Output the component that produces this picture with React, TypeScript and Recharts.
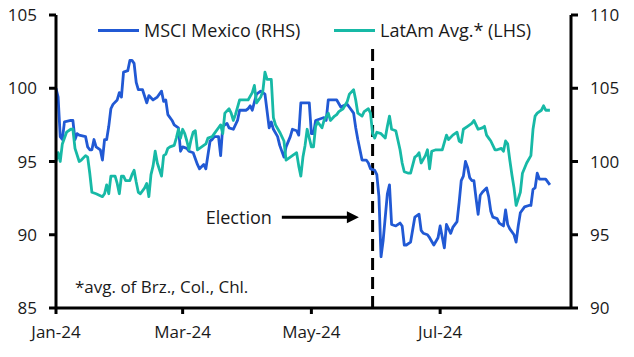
import { LineChart, Line, XAxis, YAxis, ReferenceLine, ReferenceDot, Legend } from "recharts";

document.body.style.margin = "0";

// days counted from 1 Jan 2024
const mexDays = [
  0, 1, 2, 3, 4, 7, 8, 9, 10, 11, 14, 15, 16, 17, 18, 19, 21, 22, 23, 24, 25, 26, 27, 29, 30, 31, 32, 34, 35, 36,
  37, 38, 39, 41, 43, 44, 46, 48, 50, 51, 52, 53, 55, 56, 58, 59, 60, 62, 63, 65, 67, 68, 70, 71, 73, 74, 75, 77,
  78, 79, 81, 82, 84, 86, 87, 90, 91, 92, 93, 95, 97, 98, 99, 101, 102, 103, 105, 106, 108, 109, 111, 112, 114,
  115, 116, 118, 120, 121, 122, 123, 125, 127, 128, 129, 131, 133, 135, 136, 138, 139, 141, 142, 143, 145, 147,
  148, 149, 151, 152, 153, 154, 155, 157, 158, 159, 161, 163, 164, 165, 166, 168, 170, 172, 173, 174, 176, 177,
  179, 181, 182, 184, 185, 187, 188, 190, 191, 192, 193, 194, 195, 196, 197, 198, 199, 200, 201, 202, 204, 205,
  206, 207, 209, 210, 212, 213, 214, 215, 217, 218, 219, 220, 222, 224, 225, 226, 227, 228, 229, 231, 232, 234,
];
const mexValues = [
  100.0, 99.4, 96.7, 96.5, 97.7, 97.8, 97.8, 96.5, 96.9, 96.8, 96.7, 96.0, 95.8, 95.8, 96.5, 96.0, 95.8, 95.1, 96.5,
  96.5, 97.4, 98.6, 98.9, 99.2, 99.7, 99.4, 101.1, 101.2, 101.9, 101.9, 101.7, 100.4, 99.9, 99.9, 99.0, 99.5, 99.2,
  99.4, 99.8, 99.1, 99.2, 98.2, 97.8, 97.5, 97.3, 95.7, 96.0, 95.9, 95.7, 95.6, 94.8, 94.5, 94.8, 94.5, 96.4, 96.5,
  96.7, 96.7, 95.4, 97.4, 97.6, 97.3, 97.2, 97.8, 98.5, 98.5, 98.6, 98.8, 98.5, 99.6, 99.8, 99.7, 99.6, 97.3, 97.7,
  97.2, 96.7, 96.1, 95.3, 96.0, 96.7, 97.2, 97.1, 96.8, 99.0, 99.0, 99.0, 96.9, 96.9, 97.8, 97.9, 98.0, 97.8, 99.2,
  99.2, 99.2, 98.7, 98.8, 98.9, 98.7, 98.3, 97.3, 96.5, 95.1, 95.1, 94.9, 94.5, 94.4, 94.1, 92.6, 88.5, 89.6, 92.8,
  93.4, 90.7, 90.6, 90.8, 90.6, 89.3, 89.3, 89.5, 91.2, 91.4, 90.3, 90.1, 90.0, 89.8, 89.3, 89.8, 90.6, 89.1, 90.7,
  90.1, 90.5, 90.9, 92.2, 93.7, 94.0, 95.0, 94.6, 93.9, 93.7, 93.7, 92.5, 91.4, 92.7, 92.9, 93.2, 92.6, 91.6, 91.2,
  91.1, 90.8, 90.6, 91.7, 90.7, 90.4, 90.0, 89.5, 90.6, 91.5, 91.9, 92.0, 92.0, 93.1, 93.2, 94.2, 93.8, 93.8, 93.8,
  93.4,
];

const latamDays = [
  0, 1, 2, 3, 5, 7, 8, 9, 11, 12, 14, 15, 16, 17, 19, 22, 23, 24, 25, 26, 28, 29, 30, 31, 32, 33, 35, 36, 37, 38,
  39, 40, 42, 43, 44, 45, 46, 47, 48, 50, 51, 52, 53, 54, 56, 57, 58, 59, 60, 61, 62, 63, 64, 65, 66, 67, 69, 71,
  72, 74, 75, 77, 78, 79, 80, 82, 83, 84, 85, 86, 87, 90, 91, 93, 94, 95, 97, 98, 99, 100, 102, 103, 104, 106, 108,
  109, 110, 112, 114, 115, 116, 117, 118, 119, 121, 122, 123, 124, 126, 127, 129, 130, 132, 133, 134, 136, 138,
  139, 141, 142, 143, 145, 146, 148, 149, 150, 151, 152, 154, 156, 157, 158, 159, 161, 163, 164, 165, 167, 168,
  170, 171, 172, 173, 175, 176, 177, 178, 180, 181, 183, 185, 186, 188, 190, 191, 192, 193, 195, 197, 198, 200,
  202, 203, 204, 205, 206, 208, 209, 211, 212, 213, 214, 215, 216, 217, 218, 220, 221, 223, 225, 226, 227, 228,
  230, 231, 232, 233, 234,
];
const latamValues = [
  100.0, 100.6, 100.0, 101.2, 102.0, 102.2, 102.2, 100.9, 100.0, 100.1, 100.4, 100.3, 99.2, 97.9, 97.8, 97.6, 97.8,
  98.4, 97.8, 99.0, 99.0, 98.5, 97.8, 99.0, 99.0, 98.7, 98.7, 99.1, 99.4, 98.6, 97.9, 97.8, 98.2, 98.5, 97.6, 99.1,
  99.7, 100.7, 99.9, 99.0, 100.4, 100.5, 100.9, 101.0, 101.1, 101.6, 102.2, 101.6, 102.2, 101.9, 101.4, 100.8,
  101.5, 102.0, 102.1, 100.8, 101.0, 101.2, 101.6, 101.7, 101.9, 102.3, 102.5, 101.9, 103.3, 103.6, 103.3, 102.8,
  103.2, 103.7, 104.2, 104.2, 104.2, 104.7, 105.2, 104.0, 104.4, 104.8, 106.1, 105.6, 105.6, 103.0, 102.5, 102.0,
  101.4, 100.1, 100.2, 100.4, 100.6, 99.7, 99.0, 100.3, 101.1, 102.2, 101.0, 101.0, 102.4, 102.7, 102.3, 102.8,
  103.3, 102.8, 103.1, 103.2, 103.4, 103.6, 104.1, 104.6, 104.9, 104.2, 103.3, 103.1, 103.4, 103.6, 103.3, 101.9,
  101.6, 102.0, 101.9, 101.6, 102.4, 103.1, 102.2, 102.1, 100.8, 99.9, 99.3, 99.2, 99.2, 100.3, 100.4, 100.6, 99.9,
  100.4, 100.8, 99.5, 100.7, 100.8, 100.8, 100.8, 101.8, 101.5, 101.8, 102.0, 101.4, 101.3, 102.2, 102.4, 102.6,
  102.8, 102.2, 102.3, 102.4, 101.8, 101.6, 101.4, 100.8, 100.8, 100.9, 100.7, 101.4, 101.2, 100.1, 99.1, 98.2,
  97.0, 97.9, 99.2, 99.9, 100.4, 102.2, 103.1, 103.3, 103.5, 103.8, 103.5, 103.5, 103.5,
];

const seriesNames = ["MSCI Mexico (RHS)", "LatAm Avg.* (LHS)"];
const xTicks = [0, 60, 121, 182];
const xTickLabels = ["Jan-24", "Mar-24", "May-24", "Jul-24"];
const leftTicks = [85, 90, 95, 100, 105];
const rightTicks = [90, 95, 100, 105, 110];
const electionDay = 150;

const mexData = mexDays.map((day, i) => ({ day, value: mexValues[i] }));
const latamData = latamDays.map((day, i) => ({ day, value: latamValues[i] }));

const BLUE = "#2159d4";
const TEAL = "#17b9a6";
const INK = "#1a1a1a";

function renderLegend(props: any) {
  const items = [...(props.payload || [])].sort(
    (a: any, b: any) => seriesNames.indexOf(a.value) - seriesNames.indexOf(b.value)
  );
  return (
    <div style={{ display: "flex", alignItems: "center", height: 24, fontSize: 18, color: INK }}>
      {items.map((item: any, i: number) => (
        <div key={i} style={{ display: "flex", alignItems: "center", width: i === 0 ? 236 : 200 }}>
          <span style={{ display: "inline-block", width: 41, height: 3, background: item.color, marginRight: 5 }} />
          <span style={{ whiteSpace: "nowrap" }}>{item.value}</span>
        </div>
      ))}
    </div>
  );
}

function Arrow(props: any) {
  const { x1, y1, x2 } = props;
  return (
    <g>
      <line x1={x1} y1={y1} x2={x2 - 10} y2={y1} stroke="#000" strokeWidth={3} />
      <polygon points={`${x2},${y1} ${x2 - 12},${y1 - 6} ${x2 - 12},${y1 + 6}`} fill="#000" />
    </g>
  );
}

export default function App() {
  return (
    <div style={{ fontFamily: "'Open Sans', sans-serif", width: 634, height: 357 }}>
      <LineChart width={634} height={357} margin={{ top: 15, right: 0, bottom: 0, left: 0 }}>
        <XAxis
          dataKey="day"
          type="number"
          domain={[0, 244]}
          ticks={xTicks}
          tickFormatter={(v) => xTickLabels[xTicks.indexOf(v)]}
          height={49}
          tickSize={6}
          tickMargin={12}
          axisLine={{ stroke: "#000", strokeWidth: 3 }}
          tickLine={{ stroke: "#000", strokeWidth: 3 }}
          tick={{ fill: INK, fontSize: 17 }}
          allowDataOverflow
        />
        <YAxis
          yAxisId="left"
          orientation="left"
          width={56}
          domain={[85, 105]}
          ticks={leftTicks}
          tickSize={7}
          tickMargin={12}
          axisLine={{ stroke: "#000", strokeWidth: 3 }}
          tickLine={{ stroke: "#000", strokeWidth: 3 }}
          tick={{ fill: INK, fontSize: 17 }}
          allowDataOverflow
        />
        <YAxis
          yAxisId="right"
          orientation="right"
          width={63}
          domain={[90, 110]}
          ticks={rightTicks}
          tickSize={7}
          tickMargin={12}
          axisLine={{ stroke: "#000", strokeWidth: 3 }}
          tickLine={{ stroke: "#000", strokeWidth: 3 }}
          tick={{ fill: INK, fontSize: 17 }}
          allowDataOverflow
        />
        <Legend
          layout="horizontal"
          verticalAlign="middle"
          align="center"
          width={440}
          wrapperStyle={{ top: 18, left: 98 }}
          content={renderLegend}
        />
        <ReferenceLine
          yAxisId="left"
          segment={[
            { x: electionDay, y: 85 },
            { x: electionDay, y: 102.8 },
          ]}
          stroke="#000"
          strokeWidth={3}
          strokeDasharray="12 7"
        />
        <ReferenceLine
          yAxisId="left"
          segment={[
            { x: 107, y: 91.2 },
            { x: 143.5, y: 91.2 },
          ]}
          shape={Arrow}
          label={{ value: "Election", position: "left", offset: 10, fill: INK, fontSize: 18 }}
        />
        <ReferenceDot
          yAxisId="left"
          x={9}
          y={86.45}
          r={0}
          shape={(p: any) => (
            <text x={p.cx} y={p.cy} dominantBaseline="central" fill={INK} fontSize={17}>
              *avg. of Brz., Col., Chl.
            </text>
          )}
        />
        <Line
          yAxisId="left"
          data={mexData}
          dataKey="value"
          name={seriesNames[0]}
          type="linear"
          stroke={BLUE}
          strokeWidth={2.8}
          strokeLinejoin="round"
          dot={false}
          isAnimationActive={false}
        />
        <Line
          yAxisId="right"
          data={latamData}
          dataKey="value"
          name={seriesNames[1]}
          type="linear"
          stroke={TEAL}
          strokeWidth={2.8}
          strokeLinejoin="round"
          dot={false}
          isAnimationActive={false}
        />
      </LineChart>
    </div>
  );
}
